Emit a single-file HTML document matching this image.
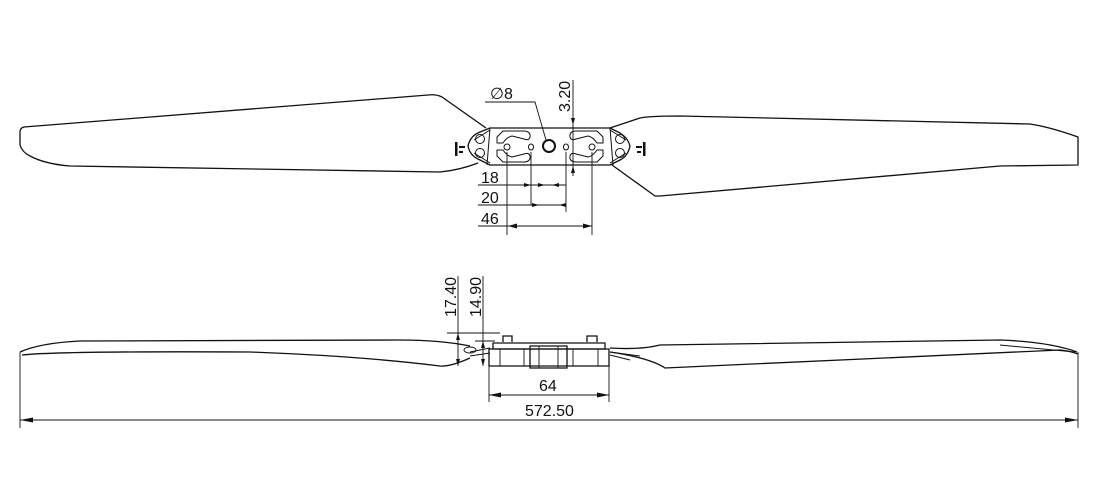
<!DOCTYPE html>
<html><head><meta charset="utf-8"><style>
html,body{margin:0;padding:0;background:#fff}
svg{display:block}
text{font-family:"Liberation Sans",sans-serif;font-size:16px;fill:#111}
</style></head><body>
<svg width="1100" height="488" viewBox="0 0 1100 488" xmlns="http://www.w3.org/2000/svg">
<g fill="none" stroke="#111" stroke-width="1.3" stroke-linejoin="round">
<path d="M486,128 L442,97 Q436,94 428,95 L24,127 Q20,128 20,132 L20,145 Q22,152 30,156 Q45,164 70,166 L440,172 Q460,170 478,163"/>
<path d="M610,128 L640,118 Q650,116 680,116 L1030,124 Q1050,127 1078,137 L1078,165 L1000,166 L660,196 L655,196 L612,165"/>
<path d="M490,128 L610,128 L620,133 Q628,138 630,146 Q628,156 620,160 L610,165 L490,165 L480,160 Q470,156 468,146 Q470,136 480,132 Z"/>
<path d="M490,130 L474,140 M490,163 L474,153 M610,130 L626,140 M610,163 L626,153" stroke-width="1"/>
<path d="M490,128 L487,165 M610,128 L613,165" stroke-width="1"/>
<circle cx="480" cy="139" r="4.5" stroke-width="1"/><circle cx="480" cy="153" r="4.5" stroke-width="1"/>
<circle cx="620" cy="139" r="4.5" stroke-width="1"/><circle cx="620" cy="153" r="4.5" stroke-width="1"/>
<path d="M497,137 L503,131 L525,131 Q531,132 530,137 Q529,141 524,139 L512,136 Q507,137 503,143 L497,143 Z" stroke-width="1"/>
<path d="M497,150 L503,150 Q507,156 512,157 L524,154 Q529,152 530,156 Q531,161 525,162 L503,162 L497,156 Z" stroke-width="1"/>
<path d="M603,137 L597,131 L575,131 Q569,132 570,137 Q571,141 576,139 L588,136 Q593,137 597,143 L603,143 Z" stroke-width="1"/>
<path d="M603,150 L597,150 Q593,156 588,157 L576,154 Q571,152 570,156 Q569,161 575,162 L597,162 L603,156 Z" stroke-width="1"/>
<circle cx="507" cy="147" r="3" stroke-width="1"/><circle cx="592" cy="147" r="3" stroke-width="1"/>
<ellipse cx="531" cy="147" rx="2.5" ry="3" stroke-width="1"/><ellipse cx="566" cy="147" rx="2.5" ry="3" stroke-width="1"/>
<circle cx="549" cy="146" r="6" stroke-width="2"/>
</g>
<g fill="#111">
<rect x="455" y="142" width="2.5" height="14"/><rect x="459" y="146" width="6" height="2"/><rect x="459" y="151" width="4" height="2"/>
<rect x="643" y="142" width="2.5" height="14"/><rect x="636" y="146" width="6" height="2"/><rect x="637" y="151" width="4" height="2"/>
</g>
<g fill="none" stroke="#111" stroke-width="0.9">
<path d="M485,102 L535,102 L546,140"/>
<path d="M573,80 L573,176"/>
<path d="M531,152 L531,205 M566,152 L566,212 M507,152 L507,235 M592,152 L592,235"/>
<path d="M478,185 L566,185 M478,205 L566,205 M478,226 L592,226"/>
</g>
<g fill="#111">
<path d="M531,185 l-7,-2 v4z"/>
<path d="M545,185 l-7,-2 v4z"/><path d="M552,185 l7,-2 v4z"/>
<path d="M539,205 l-7,-2 v4z"/><path d="M559,205 l7,-2 v4z"/>
<path d="M508,226 l9,-2.5 v5z"/><path d="M592,226 l-9,-2.5 v5z"/>
<path d="M573,125 l-2,-7 h4z"/><path d="M573,166 l-2,7 h4z"/>
</g>
<text x="490" y="99">∅8</text>
<text transform="translate(570,112) rotate(-90)">3.20</text>
<text x="481" y="183">18</text>
<text x="481" y="203">20</text>
<text x="481" y="224">46</text>
<g fill="none" stroke="#111" stroke-width="1.3">
<path d="M20,352 Q40,343 80,341 L400,340 Q440,340 470,346"/>
<path d="M22,355 Q60,351 250,352 Q360,356 440,366 Q450,367 470,358"/>
<path d="M610,348 Q640,350 660,345 L1000,340 Q1050,342 1077,352"/>
<path d="M610,352 Q650,358 665,368 L1060,350 Q1070,351 1078,354"/>
<path d="M1000,345 L1075,352" stroke-width="1"/>
<path d="M493,343 L605,343 L605,349 L493,349 Z"/>
<path d="M503,342 L503,336 L512,336 L512,342 M587,342 L587,336 L597,336 L597,342"/>
<path d="M489,349 L609,349 L609,366 L489,366 Z"/>
<path d="M530,346 L567,346 L567,368 L530,368 Z"/>
<path d="M539,346 L539,368 M558,346 L558,368 M500,349 L500,366 M598,349 L598,366 M524,349 L524,366 M573,349 L573,366" stroke-width="0.9"/>
<path d="M470,352 L490,348 M470,356 L490,353 M610,352 L640,356 M610,355 L630,360" stroke-width="1"/>
<ellipse cx="470" cy="350" rx="6" ry="3" stroke-width="0.9"/>
</g>
<g fill="none" stroke="#111" stroke-width="0.9">
<path d="M458,276 L458,366 M483,276 L483,366"/>
<path d="M447,333 L500,333 M475,341 L495,341"/>
<path d="M489,360 L489,402 M609,360 L609,402 M489,395 L609,395"/>
<path d="M20,352 L20,428 M1078,352 L1078,428 M20,420 L1078,420"/>
</g>
<g fill="#111">
<path d="M458,333 l-2,7 h4z"/><path d="M458,366 l-2,-7 h4z"/>
<path d="M483,341 l-2,7 h4z"/><path d="M483,366 l-2,-7 h4z"/>
<path d="M489,395 l12,-2.5 v5z"/><path d="M609,395 l-12,-2.5 v5z"/>
<path d="M20,420 l13,-2.5 v5z"/><path d="M1078,420 l-13,-2.5 v5z"/>
</g>
<text transform="translate(456,317) rotate(-90)">17.40</text>
<text transform="translate(481,317) rotate(-90)">14.90</text>
<text x="539" y="391">64</text>
<text x="525" y="416">572.50</text>
</svg>
</body></html>
